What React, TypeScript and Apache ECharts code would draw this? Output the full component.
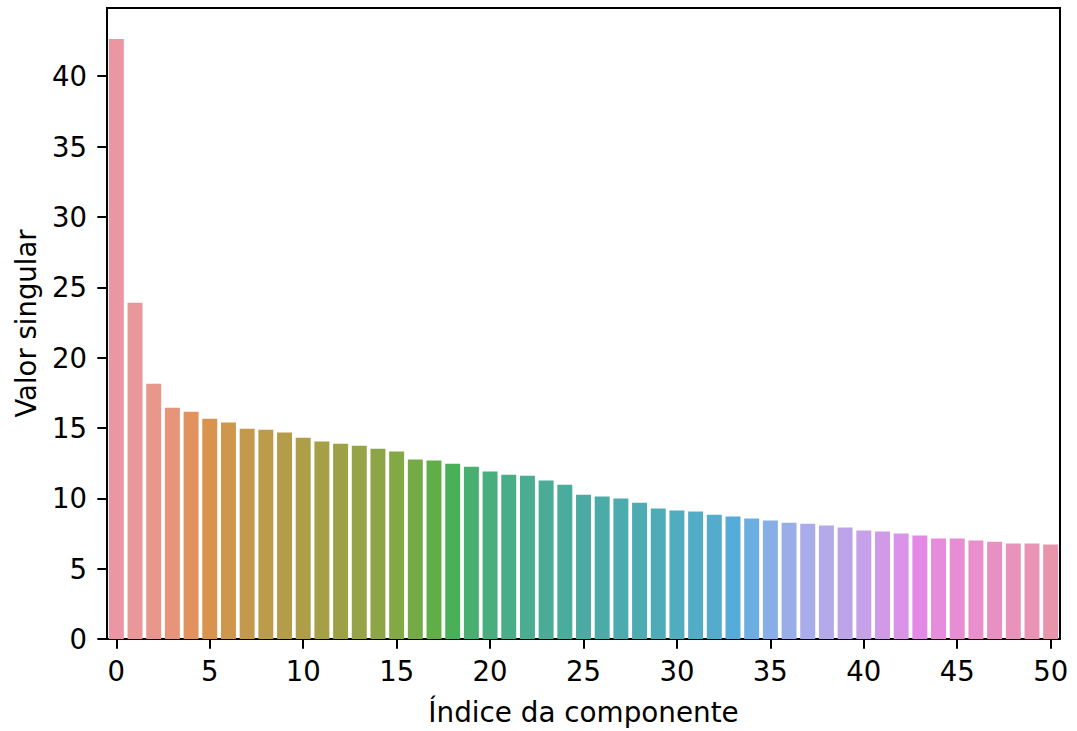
import React, { useEffect, useRef } from "react";
import * as echarts from "echarts";

const categories: string[] = Array.from({ length: 51 }, (_, i) => String(i));
const singularValues: number[] = [
  42.65, 23.9, 18.15, 16.44, 16.16, 15.66, 15.38, 14.95, 14.88, 14.67,
  14.31, 14.03, 13.88, 13.74, 13.53, 13.32, 12.75, 12.68, 12.46, 12.25,
  11.9, 11.68, 11.61, 11.26, 10.97, 10.26, 10.12, 9.98, 9.69, 9.27,
  9.13, 9.06, 8.84, 8.7, 8.56, 8.42, 8.27, 8.2, 8.06, 7.92,
  7.71, 7.64, 7.49, 7.35, 7.14, 7.14, 7.0, 6.92, 6.78, 6.78, 6.71,
];
const xTitle = "Índice da componente";
const yTitle = "Valor singular";

// --- HUSL palette (seaborn-style) for bar colours ---
const M = [
  [3.240969941904521, -1.537383177570093, -0.498610760293],
  [-0.96924363628087, 1.87596750150772, 0.041555057407175],
  [0.055630079696993, -0.20397695888897, 1.056971514242878],
];
const refU = 0.19783000664283;
const refV = 0.46831999493879;
const kappa = 903.2962962;
const epsilon = 0.0088564516;

function maxChroma(L: number, H: number): number {
  const hrad = (H / 360) * 2 * Math.PI;
  const sinH = Math.sin(hrad);
  const cosH = Math.cos(hrad);
  const sub1 = Math.pow(L + 16, 3) / 1560896;
  const sub2 = sub1 > epsilon ? sub1 : L / kappa;
  let result = Infinity;
  for (const row of M) {
    const [m1, m2, m3] = row;
    const top = (0.99915 * m1 + 1.05122 * m2 + 1.1446 * m3) * sub2;
    const rbottom = 0.8633 * m3 - 0.17266 * m2;
    const lbottom = 0.12949 * m3 - 0.38848 * m1;
    const bottom = (rbottom * sinH + lbottom * cosH) * sub2;
    for (const t of [0, 1]) {
      const C = (L * (top - 1.05122 * t)) / (bottom + 0.17266 * sinH * t);
      if (C > 0 && C < result) result = C;
    }
  }
  return result;
}
function fInv(t: number) {
  return Math.pow(t, 3) > epsilon ? Math.pow(t, 3) : (116 * t - 16) / kappa;
}
function fromLinear(c: number) {
  return c <= 0.0031308 ? 12.92 * c : 1.055 * Math.pow(c, 1 / 2.4) - 0.055;
}
function huslToRgb(H: number, S: number, L: number): number[] {
  const C = (maxChroma(L, H) / 100) * S;
  const hrad = (H / 360) * 2 * Math.PI;
  const U = Math.cos(hrad) * C;
  const V = Math.sin(hrad) * C;
  const Y = fInv((L + 16) / 116);
  const varU = U / (13 * L) + refU;
  const varV = V / (13 * L) + refV;
  const X = 0 - (9 * Y * varU) / ((varU - 4) * varV - varU * varV);
  const Z = (9 * Y - 15 * varV * Y - varV * X) / (3 * varV);
  return M.map((r) => {
    const v = fromLinear(r[0] * X + r[1] * Y + r[2] * Z);
    return Math.min(1, Math.max(0, v));
  });
}
function rgbToHls(r: number, g: number, b: number) {
  const maxc = Math.max(r, g, b), minc = Math.min(r, g, b);
  const l = (minc + maxc) / 2;
  if (minc === maxc) return [0, l, 0];
  const s = l <= 0.5 ? (maxc - minc) / (maxc + minc) : (maxc - minc) / (2 - maxc - minc);
  const rc = (maxc - r) / (maxc - minc), gc = (maxc - g) / (maxc - minc), bc = (maxc - b) / (maxc - minc);
  let h;
  if (r === maxc) h = bc - gc;
  else if (g === maxc) h = 2 + rc - bc;
  else h = 4 + gc - rc;
  h = ((h / 6) % 1 + 1) % 1;
  return [h, l, s];
}
function v(m1: number, m2: number, hue: number) {
  hue = ((hue % 1) + 1) % 1;
  if (hue < 1 / 6) return m1 + (m2 - m1) * hue * 6;
  if (hue < 0.5) return m2;
  if (hue < 2 / 3) return m1 + (m2 - m1) * (2 / 3 - hue) * 6;
  return m1;
}
function hlsToRgb(h: number, l: number, s: number) {
  if (s === 0) return [l, l, l];
  const m2 = l <= 0.5 ? l * (1 + s) : l + s - l * s;
  const m1 = 2 * l - m2;
  return [v(m1, m2, h + 1 / 3), v(m1, m2, h), v(m1, m2, h - 1 / 3)];
}
function huslPalette(n: number, light: number, desat: number): string[] {
  const out: string[] = [];
  for (let i = 0; i < n; i++) {
    let h = i / n + 0.01;
    h = (h % 1) * 359;
    const [r, g, b] = huslToRgb(h, 0.9 * 99, light * 99);
    const [hh, ll, ss] = rgbToHls(r, g, b);
    const [r2, g2, b2] = hlsToRgb(hh, ll, ss * desat);
    const toHex = (x: number) => Math.round(Math.min(1, Math.max(0, x)) * 255).toString(16).padStart(2, "0");
    out.push("#" + toHex(r2) + toHex(g2) + toHex(b2));
  }
  return out;
}

export default function App() {
  const ref = useRef<HTMLDivElement>(null);
  useEffect(() => {
    document.body.style.margin = "0";
    document.body.style.overflow = "hidden";
    if (!ref.current) return;
    const chart = echarts.init(ref.current, undefined, { renderer: "svg" });
    const colors = huslPalette(categories.length, 0.7, 0.75);
    const font = "DejaVu Sans";
    chart.setOption({
      animation: false,
      backgroundColor: "#ffffff",
      grid: {
        left: 107,
        right: 17,
        top: 8,
        bottom: 91,
        show: true,
        borderColor: "#000",
        borderWidth: 2,
        backgroundColor: "transparent",
      },
      xAxis: {
        type: "category",
        data: categories,
        name: xTitle,
        nameLocation: "middle",
        nameGap: 59,
        nameTextStyle: { fontFamily: font, fontSize: 27.8, color: "#000" },
        axisLine: { show: true, lineStyle: { color: "#000", width: 2 } },
        axisTick: { show: true, alignWithLabel: true, interval: 4, length: 9.7, lineStyle: { color: "#000", width: 2 } },
        axisLabel: { interval: 4, margin: 18, fontFamily: font, fontSize: 27.5, color: "#000" },
        splitLine: { show: false },
      },
      yAxis: {
        type: "value",
        min: 0,
        max: 44.85,
        interval: 5,
        name: yTitle,
        nameLocation: "middle",
        nameGap: 67,
        nameTextStyle: { fontFamily: font, fontSize: 27.5, color: "#000" },
        axisLine: { show: true, lineStyle: { color: "#000", width: 2 } },
        axisTick: { show: true, length: 9.7, lineStyle: { color: "#000", width: 2 } },
        axisLabel: { showMaxLabel: false, margin: 20, fontFamily: font, fontSize: 27.5, color: "#000" },
        splitLine: { show: false },
      },
      series: [
        {
          type: "bar",
          data: singularValues.map((val, i) => ({ value: val, itemStyle: { color: colors[i] } })),
          barCategoryGap: "20%",
        },
      ],
    });
    return () => chart.dispose();
  }, []);
  return <div ref={ref} style={{ width: 1077, height: 731 }} />;
}
